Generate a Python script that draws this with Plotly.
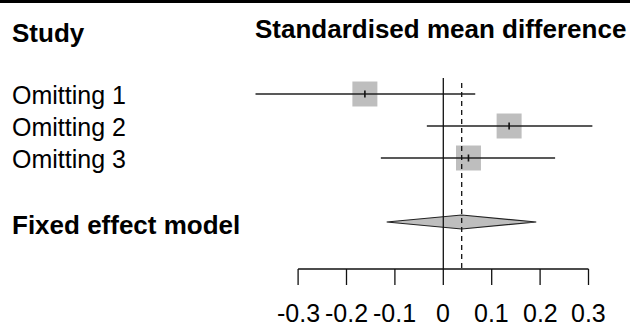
import plotly.graph_objects as go

# ---- data ----
studies = ["Omitting 1", "Omitting 2", "Omitting 3"]
te = [-0.162, 0.136, 0.052]
lower = [-0.388, -0.034, -0.129]
upper = [0.066, 0.308, 0.231]
fixed_label = "Fixed effect model"
fixed_te = 0.038
fixed_lower = -0.117
fixed_upper = 0.192
tick_vals = [-0.3, -0.2, -0.1, 0, 0.1, 0.2, 0.3]
tick_text = ["-0.3", "-0.2", "-0.1", "0", "0.1", "0.2", "0.3"]
col_left = "Study"
col_right = "Standardised mean difference"

# ---- layout geometry (pixels) ----
W, H = 630, 329
X0_PX = 443.3        # pixel of value 0
PX_PER_UNIT = 484.0  # pixels per 1.0 unit
ROW0_PX = 94.0       # pixel of row 1
ROW_PX = 32.0        # pixels per row
AXIS_PX = 269.0
TICK_END_PX = 285.0
LABEL_BOTTOM_PX = 329.0

def row_of_px(py):
    return (py - ROW0_PX) / ROW_PX + 1

xr = [(0 - X0_PX) / PX_PER_UNIT, (W - X0_PX) / PX_PER_UNIT]
yr = [row_of_px(H), row_of_px(0)]

rows = [1, 2, 3]
fixed_row = 5

FONT = "Liberation Sans, Arial, sans-serif"
FS = 25
FSB = 26
GREY = "#BEBEBE"
INK = "#111111"

fig = go.Figure()

# squares
fig.add_trace(go.Scatter(
    x=te, y=rows, mode="markers",
    marker=dict(symbol="square", size=25, color=GREY, line=dict(width=0)),
    hoverinfo="skip", showlegend=False))

# CI lines
cx, cy = [], []
for lo, hi, r in zip(lower, upper, rows):
    cx += [lo, hi, None]
    cy += [r, r, None]
fig.add_trace(go.Scatter(x=cx, y=cy, mode="lines",
                         line=dict(color="#222222", width=1.3),
                         hoverinfo="skip", showlegend=False))

# point estimate ticks
fig.add_trace(go.Scatter(
    x=te, y=rows, mode="markers",
    marker=dict(symbol="line-ns", size=5, line=dict(width=1.6, color=INK)),
    hoverinfo="skip", showlegend=False))

# diamond
dh = 7.0 / ROW_PX
fig.add_trace(go.Scatter(
    x=[fixed_lower, fixed_te, fixed_upper, fixed_te, fixed_lower],
    y=[fixed_row, fixed_row - dh, fixed_row, fixed_row + dh, fixed_row],
    mode="lines", fill="toself", fillcolor=GREY,
    line=dict(color="#222222", width=1.2),
    hoverinfo="skip", showlegend=False))

# reference lines
fig.add_shape(type="line", xref="x", yref="y", x0=0, x1=0,
              y0=row_of_px(78), y1=row_of_px(AXIS_PX),
              line=dict(color=INK, width=1.3))
fig.add_shape(type="line", xref="x", yref="y", x0=fixed_te, x1=fixed_te,
              y0=row_of_px(83), y1=row_of_px(AXIS_PX),
              line=dict(color=INK, width=1.3, dash="5px,4px"))

# top border line
fig.add_shape(type="rect", xref="paper", yref="paper", x0=0, x1=1,
              y0=1 - 3 / H, y1=1, fillcolor="black", line=dict(width=0))

# x axis (drawn in data coordinates)
ya = row_of_px(AXIS_PX)
yt = row_of_px(TICK_END_PX)
fig.add_shape(type="line", xref="x", yref="y", x0=tick_vals[0], x1=tick_vals[-1],
              y0=ya, y1=ya, line=dict(color=INK, width=1.3))
ann = []
for v, t in zip(tick_vals, tick_text):
    fig.add_shape(type="line", xref="x", yref="y", x0=v, x1=v, y0=ya, y1=yt,
                  line=dict(color=INK, width=1.3))
    ann.append(dict(x=v, xref="x", y=0, yref="paper", text=t,
                    showarrow=False, xanchor="center", yanchor="bottom",
                    font=dict(family=FONT, size=FS, color="black")))

# labels
for s, r in zip(studies, rows):
    ann.append(dict(x=10 / W, xref="paper", y=r + 0.5 / ROW_PX, yref="y",
                    text=s, showarrow=False, xanchor="left", yanchor="middle",
                    font=dict(family=FONT, size=FS, color="black")))
ann.append(dict(x=10 / W, xref="paper", y=row_of_px(225), yref="y",
                text="<b>" + fixed_label + "</b>", showarrow=False,
                xanchor="left", yanchor="middle",
                font=dict(family=FONT, size=FSB, color="black")))
ann.append(dict(x=10 / W, xref="paper", y=row_of_px(33), yref="y",
                text="<b>" + col_left + "</b>", showarrow=False,
                xanchor="left", yanchor="middle",
                font=dict(family=FONT, size=FSB, color="black")))
ann.append(dict(x=440 / W, xref="paper", y=row_of_px(28.5), yref="y",
                text="<b>" + col_right + "</b>", showarrow=False,
                xanchor="center", yanchor="middle",
                font=dict(family=FONT, size=FSB, color="black")))

fig.update_layout(
    width=W, height=H,
    margin=dict(l=0, r=0, t=0, b=0, autoexpand=False),
    paper_bgcolor="white", plot_bgcolor="white",
    xaxis=dict(range=xr, visible=False, domain=[0, 1], fixedrange=True),
    yaxis=dict(range=yr, visible=False, domain=[0, 1], fixedrange=True),
    annotations=ann,
    showlegend=False,
)

fig.write_html("out.html")
